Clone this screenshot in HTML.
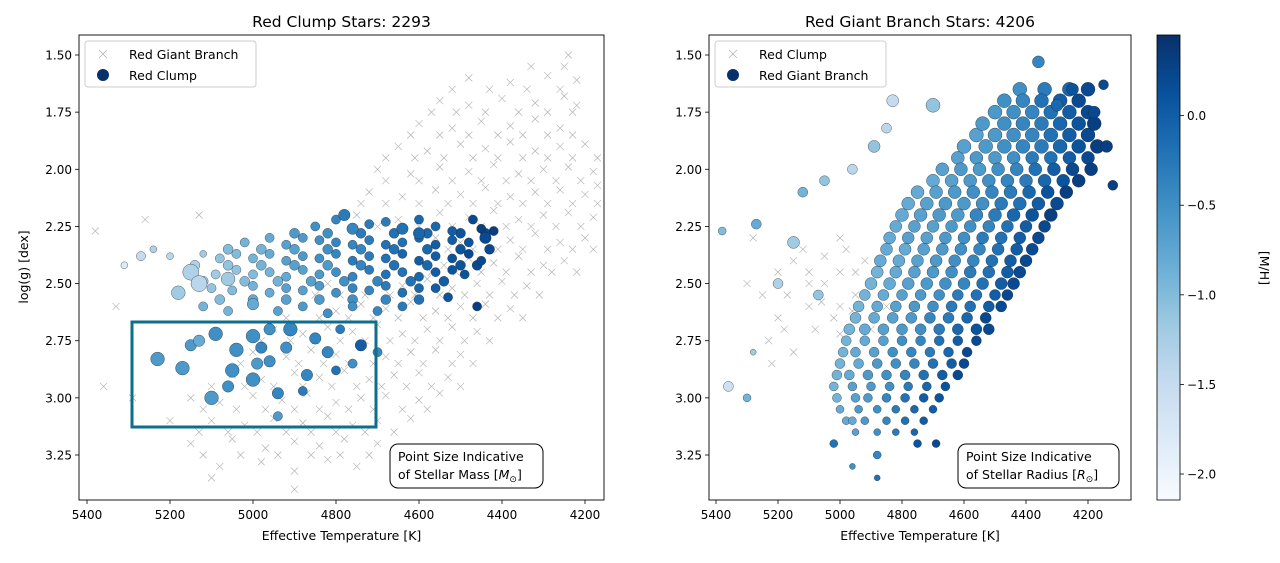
<!DOCTYPE html>
<html><head><meta charset="utf-8"><style>
body{margin:0;background:#fff;}
svg text{font-family:"DejaVu Sans","Liberation Sans",sans-serif;fill:#000;}
</style></head><body>
<svg id="fig" width="1280" height="558" viewBox="0 0 1280 558" xmlns="http://www.w3.org/2000/svg">
<defs>
<linearGradient id="cbg" x1="0" y1="1" x2="0" y2="0">
<stop offset="0" stop-color="#f7fbff"/><stop offset="0.125" stop-color="#deebf7"/><stop offset="0.25" stop-color="#c6dbef"/><stop offset="0.375" stop-color="#9ecae1"/><stop offset="0.5" stop-color="#6baed6"/><stop offset="0.625" stop-color="#4292c6"/><stop offset="0.75" stop-color="#2171b5"/><stop offset="0.875" stop-color="#08519c"/><stop offset="1" stop-color="#08306b"/>
</linearGradient>
<clipPath id="clipL"><rect x="79" y="35" width="525" height="465"/></clipPath>
<clipPath id="clipR"><rect x="709" y="35" width="422" height="465"/></clipPath>
</defs>
<g id="left"></g>
<g id="right"></g>
<g id="cbar"></g>
</svg>
<script>
// ---- data ----
const rcPoints = [
[4850,2.25,-0.5,4],[4800,2.22,-0.4,4],[4760,2.26,-0.4,5],[4720,2.24,-0.3,4],[4680,2.23,-0.3,4],[4640,2.26,-0.2,5],[4600,2.22,-0.1,4],[4560,2.25,-0.1,4],[4520,2.27,0,4],[4470,2.22,0.2,4],[4450,2.26,0.3,4],[4420,2.27,0.3,4],[4780,2.2,-0.3,5],
[5020,2.32,-0.9,4],[4960,2.3,-0.8,4],[4920,2.33,-0.7,4],[4880,2.3,-0.6,4],[4840,2.31,-0.5,4],[4800,2.32,-0.4,4],[4760,2.33,-0.4,4],[4720,2.31,-0.3,4],[4680,2.33,-0.2,4],[4640,2.32,-0.2,4],[4600,2.3,-0.1,4],[4560,2.33,0,4],[4520,2.31,0,4],[4480,2.32,0.1,4],[4440,2.3,0.2,5],[4600,2.28,-0.1,5],
[5200,2.38,-1.4,3],[5120,2.37,-1.2,3],[5080,2.39,-1.1,4],[5040,2.37,-1.0,4],[5000,2.39,-0.9,4],[4960,2.37,-0.8,4],[4920,2.4,-0.7,4],[4880,2.38,-0.6,4],[4840,2.39,-0.5,4],[4800,2.37,-0.4,4],[4760,2.4,-0.3,4],[4720,2.38,-0.3,4],[4680,2.39,-0.2,4],[4640,2.37,-0.1,4],[4600,2.4,0,4],[4560,2.38,0,4],[4520,2.39,0.1,4],[4480,2.37,0.2,4],[4450,2.4,0.2,4],
[5150,2.45,-1.3,7],[5090,2.46,-1.2,4],[5040,2.44,-1.1,4],[5000,2.46,-1.0,4],[4960,2.45,-0.9,4],[4920,2.47,-0.8,4],[4880,2.44,-0.7,4],[4840,2.46,-0.6,4],[4800,2.45,-0.5,4],[4760,2.47,-0.4,4],[4720,2.44,-0.3,4],[4680,2.46,-0.2,4],[4640,2.45,-0.2,4],[4600,2.47,-0.1,4],[4560,2.45,0,4],[4520,2.44,0.1,4],[4490,2.46,0.1,4],
[5180,2.54,-1.2,6],[5100,2.52,-1.1,4],[5050,2.53,-1.0,4],[5000,2.51,-0.9,4],[4960,2.54,-0.8,4],[4920,2.52,-0.7,4],[4880,2.53,-0.7,4],[4840,2.51,-0.6,4],[4800,2.54,-0.5,4],[4760,2.52,-0.4,4],[4720,2.53,-0.4,4],[4680,2.51,-0.3,4],[4640,2.54,-0.2,4],[4600,2.52,-0.1,4],[4560,2.52,0,4],
[5120,2.6,-0.9,4],[5060,2.62,-0.9,4],[5000,2.59,-0.8,5],[4940,2.62,-0.7,4],[4880,2.6,-0.6,4],[4820,2.63,-0.5,4],[4760,2.6,-0.5,4],[4700,2.62,-0.4,4],[4640,2.6,-0.3,4],[4460,2.6,0.3,4],[4530,2.56,0.1,4],
[5230,2.83,-0.6,6],[5150,2.77,-0.6,5],[5090,2.72,-0.5,6],[5040,2.79,-0.5,6],[5000,2.73,-0.5,6],[4960,2.84,-0.5,5],[4920,2.78,-0.5,5],[4870,2.9,-0.4,5],[4820,2.8,-0.4,5],[4760,2.85,-0.5,4],[4700,2.8,-0.4,4],[4740,2.77,0,5],[5000,2.92,-0.5,6],[4940,2.98,-0.4,5],[5100,3.0,-0.6,6],[4880,2.97,-0.3,4],[4940,3.08,-0.6,4],[4800,2.88,-0.2,4],[5170,2.87,-0.6,6],[5050,2.88,-0.5,6],[4990,2.85,-0.6,5],[4910,2.7,-0.4,6],[4850,2.74,-0.4,5],[5130,2.75,-0.8,5],[5060,2.95,-0.5,5],[4980,2.78,-0.4,5],[4960,2.7,-0.5,5],[4790,2.7,-0.3,4],
[5270,2.38,-1.5,4],[5310,2.42,-1.8,3],[5240,2.35,-1.3,3],[5130,2.5,-1.4,7],[5060,2.48,-1.2,6]
];
const rcLogg2 = [2.28,2.35,2.42,2.49,2.57];
const rcTeff2 = [
[4900,4820,4740,4660,4580,4500,4440],
[5060,4980,4900,4820,4740,4660,4580,4500,4430],
[5140,5060,4980,4900,4820,4740,4660,4580,4500,4460],
[5120,5020,4940,4860,4780,4700,4620,4540],
[5080,5000,4920,4840,4760,4680,4600]
];
const rcFeh2 = [
[-0.6,-0.5,-0.3,-0.2,-0.1,0.1,0.2],
[-1.0,-0.9,-0.7,-0.5,-0.4,-0.2,-0.1,0.1,0.2],
[-1.3,-1.1,-0.9,-0.7,-0.6,-0.4,-0.2,-0.1,0.1,0.2],
[-1.2,-1.0,-0.9,-0.7,-0.5,-0.4,-0.2,0.0],
[-1.0,-0.8,-0.7,-0.6,-0.5,-0.4,-0.2]
];
const rgbCrossL = [
[5080,3.3],[4980,3.28],[4900,3.32],[4820,3.27],[4750,3.3],
[5150,3.2],[5050,3.18],[4970,3.22],[4900,3.19],[4840,3.21],[4780,3.18],[4700,3.2],
[5100,3.1],[5020,3.12],[4950,3.09],[4880,3.11],[4820,3.08],[4760,3.12],[4700,3.1],[4620,3.09],
[5150,3.0],[5080,3.02],[5000,2.99],[4930,3.01],[4870,2.98],[4800,3.02],[4740,3.0],[4680,2.99],[4600,3.01],[4550,2.98],
[5050,2.9],[4980,2.92],[4900,2.89],[4840,2.91],[4780,2.88],[4720,2.92],[4660,2.9],[4600,2.89],[4530,2.91],
[5000,2.8],[4920,2.82],[4860,2.79],[4800,2.81],[4740,2.78],[4680,2.82],[4620,2.8],[4560,2.79],[4500,2.81],
[4950,2.7],[4880,2.72],[4820,2.69],[4760,2.71],[4700,2.68],[4640,2.72],[4580,2.7],[4520,2.69],[4460,2.71],
[4880,2.6],[4800,2.62],[4740,2.59],[4680,2.61],[4620,2.58],[4560,2.62],[4500,2.6],[4440,2.59],[4380,2.61],
[4820,2.5],[4760,2.52],[4700,2.49],[4640,2.51],[4580,2.48],[4520,2.52],[4460,2.5],[4400,2.49],[4340,2.51],
[4600,2.4],[4540,2.42],[4480,2.39],[4420,2.41],[4360,2.38],[4300,2.42],[4250,2.4],
[4560,2.3],[4500,2.32],[4440,2.29],[4380,2.31],[4320,2.28],[4260,2.32],[4200,2.3],
[4750,2.2],[4650,2.22],[4550,2.19],[4480,2.21],[4420,2.18],[4360,2.22],[4300,2.2],[4240,2.19],[4180,2.21],
[4720,2.1],[4640,2.12],[4560,2.09],[4500,2.11],[4440,2.08],[4380,2.12],[4320,2.1],[4260,2.09],[4200,2.11],
[4700,2.0],[4620,2.02],[4550,1.99],[4480,2.01],[4420,1.98],[4360,2.02],[4300,2.0],[4240,1.99],[4180,2.01],
[4650,1.9],[4580,1.92],[4500,1.89],[4440,1.91],[4380,1.88],[4320,1.92],[4260,1.9],[4200,1.89],
[4600,1.8],[4520,1.82],[4450,1.79],[4380,1.81],[4320,1.78],[4260,1.82],
[4550,1.7],[4480,1.72],[4400,1.69],[4320,1.71],[4250,1.68],
[4480,1.6],[4380,1.62],[4290,1.59],[4220,1.61],[4240,1.5],
[5380,2.27],[5360,2.95],[5290,3.0],[5260,2.22],[5330,2.6],[5200,3.1],[4170,2.07],[4220,1.72],[5130,2.2],[5100,3.35],[4900,3.4]
];
const crossL2Logg = [3.25,3.15,3.05,2.95,2.85,2.75,2.65,2.55,2.45,2.35,2.25,2.15,2.05,1.95,1.85,1.75,1.65,1.55];
const crossL2Teff = [
[5120,5030,4940,4860,4790,4720],
[5130,5060,4990,4920,4860,4800,4730,4660],
[5120,5040,4970,4900,4840,4770,4710,4640,4580],
[5100,5020,4950,4880,4810,4750,4690,4630,4570,4500],
[5030,4960,4890,4830,4770,4710,4650,4590,4520,4470],
[4980,4910,4850,4790,4730,4670,4610,4550,4490,4430],
[4920,4840,4770,4710,4650,4590,4530,4470,4410,4350],
[4850,4790,4730,4670,4610,4550,4490,4430,4370,4310],
[4640,4570,4510,4450,4390,4330,4280,4220],
[4580,4530,4470,4410,4350,4290,4230,4180],
[4700,4600,4520,4450,4390,4330,4270,4210],
[4740,4680,4600,4530,4470,4410,4350,4290,4230,4170],
[4680,4600,4520,4450,4390,4330,4270,4210],
[4680,4610,4540,4470,4410,4350,4290,4230,4170],
[4620,4550,4480,4410,4350,4290,4230],
[4570,4510,4440,4360,4290,4230],
[4520,4430,4340,4260],
[4330,4250]
];
const rcCrossR = [
[5150,2.4],[5100,2.45],[5050,2.5],[5000,2.45],[5000,2.6],[4950,2.55],[5100,2.6],[5200,2.65],[5050,2.38],[4980,2.35],[5250,2.55],[5300,2.5],[5150,2.8],[5220,2.85],[5080,2.7],[5000,2.72],[5200,2.45],[4950,2.45],[5060,2.58],
[5100,2.5],[4900,2.5],[4850,2.6],[5120,2.35],[5020,2.65],[4900,2.7],[5180,2.7],[5000,2.3],[4920,2.4],[5280,2.3],[5170,2.55],[5230,2.75],[4960,2.62]
];
const rgbLogg = [3.15,3.05,2.95,2.85,2.75,2.65,2.55,2.45,2.35,2.25,2.15,2.05,1.95,1.85,1.75,1.65];
const rgbRadius = [3.5,4,4.5,5,5,5.5,5.5,6,6,6,6.5,6.5,6.5,7,7,7];
const rgbTeff = [
[4950,4880,4820,4760],
[5000,4940,4880,4820,4760,4700],
[5020,4960,4900,4840,4780,4720,4660],
[5000,4940,4880,4820,4760,4700,4640,4600],
[4980,4920,4860,4800,4740,4680,4620,4560],
[4950,4890,4830,4770,4710,4650,4590,4530],
[4920,4860,4800,4740,4680,4620,4560,4500,4460],
[4880,4820,4760,4700,4640,4580,4520,4460,4420],
[4850,4790,4730,4670,4610,4550,4490,4430,4380],
[4820,4760,4700,4640,4580,4520,4460,4400,4340],
[4780,4720,4660,4600,4540,4480,4420,4360,4300],
[4700,4640,4580,4520,4460,4400,4340,4280,4230],
[4620,4560,4500,4440,4380,4320,4260,4200],
[4560,4500,4440,4380,4320,4260,4200],
[4500,4440,4380,4320,4260,4200],
[4420,4340,4260,4200]
];
const rgbFeh = [
[-0.7,-0.5,-0.3,-0.1],
[-0.8,-0.6,-0.5,-0.3,-0.1,0.0],
[-0.9,-0.7,-0.6,-0.5,-0.3,-0.1,0.1],
[-0.9,-0.8,-0.6,-0.5,-0.4,-0.2,0.0,0.2],
[-0.9,-0.8,-0.7,-0.5,-0.4,-0.2,0.0,0.2],
[-0.9,-0.8,-0.7,-0.6,-0.4,-0.3,-0.1,0.2],
[-0.9,-0.8,-0.7,-0.6,-0.5,-0.3,-0.2,0.0,0.2],
[-0.9,-0.8,-0.7,-0.6,-0.5,-0.3,-0.2,0.0,0.2],
[-0.8,-0.8,-0.7,-0.6,-0.5,-0.4,-0.2,0.0,0.2],
[-0.8,-0.7,-0.7,-0.6,-0.5,-0.4,-0.2,0.0,0.2],
[-0.8,-0.7,-0.6,-0.6,-0.5,-0.3,-0.2,0.0,0.2],
[-0.8,-0.7,-0.6,-0.5,-0.4,-0.3,-0.1,0.1,0.3],
[-0.7,-0.6,-0.6,-0.5,-0.3,-0.2,0.0,0.2],
[-0.7,-0.6,-0.5,-0.4,-0.2,0.0,0.2],
[-0.6,-0.5,-0.4,-0.2,0.0,0.2],
[-0.5,-0.3,-0.1,0.2]
];
const rgbLogg2 = [3.10,3.00,2.90,2.80,2.70,2.60,2.50,2.40,2.30,2.20,2.10,2.00,1.90,1.80,1.70];
const rgbRadius2 = [4,4.5,5,5,5.5,5.5,6,6,6,6.5,6.5,6.5,7,7,7];
const rgbTeff2 = [
[4980,4920,4850,4790,4730],
[5010,4950,4910,4850,4790,4730,4680],
[5010,4970,4910,4850,4790,4730,4670,4620],
[4990,4950,4890,4830,4770,4710,4650,4590],
[4970,4920,4860,4800,4740,4680,4620,4560,4520],
[4940,4880,4820,4760,4700,4640,4580,4520,4480],
[4900,4840,4780,4720,4660,4600,4540,4480,4440],
[4870,4810,4750,4690,4630,4570,4510,4450,4400],
[4840,4780,4720,4660,4600,4540,4480,4420,4360],
[4800,4740,4680,4620,4560,4500,4440,4380,4320],
[4750,4690,4630,4570,4510,4450,4390,4330,4270],
[4670,4610,4550,4490,4430,4370,4310,4250,4190],
[4600,4530,4470,4410,4350,4290,4230,4170],
[4540,4470,4410,4350,4290,4230,4180],
[4470,4410,4350,4290,4230]
];
const rgbFeh2 = [
[-0.8,-0.6,-0.4,-0.2,0.0],
[-0.9,-0.7,-0.6,-0.4,-0.2,0.0,0.1],
[-0.9,-0.8,-0.6,-0.5,-0.4,-0.2,0.0,0.2],
[-0.9,-0.8,-0.7,-0.5,-0.4,-0.3,-0.1,0.2],
[-0.9,-0.8,-0.7,-0.6,-0.5,-0.3,-0.1,0.1,0.2],
[-0.9,-0.8,-0.7,-0.6,-0.5,-0.3,-0.2,0.0,0.2],
[-0.9,-0.8,-0.7,-0.6,-0.5,-0.4,-0.2,0.0,0.2],
[-0.8,-0.8,-0.7,-0.6,-0.5,-0.4,-0.2,0.0,0.2],
[-0.8,-0.7,-0.7,-0.6,-0.5,-0.3,-0.2,0.0,0.2],
[-0.8,-0.7,-0.6,-0.6,-0.4,-0.3,-0.1,0.1,0.3],
[-0.8,-0.7,-0.6,-0.5,-0.4,-0.3,-0.1,0.1,0.3],
[-0.7,-0.6,-0.6,-0.5,-0.4,-0.2,0.0,0.2,0.3],
[-0.7,-0.6,-0.5,-0.4,-0.3,-0.1,0.1,0.3],
[-0.6,-0.5,-0.4,-0.3,-0.1,0.1,0.3],
[-0.5,-0.4,-0.2,0.0,0.2]
];
const rgbOutliers = [
[5380,2.27,-1.0,4],[5270,2.24,-0.8,5],[5120,2.1,-0.9,5],[5050,2.05,-1.1,5],[4960,2.0,-1.4,5],[5150,2.32,-1.2,6],[5200,2.5,-1.3,5],[5070,2.55,-1.1,5],[5360,2.95,-1.6,5],[5300,3.0,-0.9,4],[5280,2.8,-1.2,3],[4890,1.9,-1.1,6],[4830,1.7,-1.5,6],[4850,1.82,-1.4,5],[4700,1.72,-1.1,7],[4360,1.53,-0.4,6],[4150,1.63,0.2,5],[4120,2.07,0.3,5],[4140,1.9,0.3,6],[4960,3.3,-0.5,3],[4880,3.25,-0.4,4],[4750,3.2,0.1,4],[4690,3.2,0.2,4],[5020,3.2,-0.2,4],[4960,3.1,-0.8,4],[4880,3.35,-0.2,3],[4250,1.65,0.1,6],[4180,1.75,0.2,6],[4300,1.72,-0.1,6]
];
const xTicks = [5400,5200,5000,4800,4600,4400,4200];
const yTicks = [1.50,1.75,2.00,2.25,2.50,2.75,3.00,3.25];
const cbTicks = [0.0,-0.5,-1.0,-1.5,-2.0];

// ---- scales ----
const NS="http://www.w3.org/2000/svg";
const xL = t => 87 + (5400 - t) * 0.415;
const xR = t => 716 + (5400 - t) * 0.31;
const yS = g => 55 + (g - 1.5) * 228.57;
const fehMin=-2.145, fehMax=0.45;
const stops=[[0,[247,251,255]],[.125,[222,235,247]],[.25,[198,219,239]],[.375,[158,202,225]],[.5,[107,174,214]],[.625,[66,146,198]],[.75,[33,113,181]],[.875,[8,81,156]],[1,[8,48,107]]];
function cmap(v){let t=(v-fehMin)/(fehMax-fehMin);t=Math.max(0,Math.min(1,t));
 for(let i=1;i<stops.length;i++){if(t<=stops[i][0]){const a=stops[i-1],b=stops[i],f=(t-a[0])/(b[0]-a[0]);
 return `rgb(${a[1].map((c,k)=>Math.round(c+(b[1][k]-c)*f)).join(',')})`;}}return 'rgb(8,48,107)';}
function el(tag,attrs,parent,text){const e=document.createElementNS(NS,tag);for(const k in attrs)e.setAttribute(k,attrs[k]);if(text!==undefined)e.textContent=text;parent.appendChild(e);return e;}
function cross(g,x,y){
 const p=el('path',{d:`M${x-3.5},${y-3.5}L${x+3.5},${y+3.5}M${x-3.5},${y+3.5}L${x+3.5},${y-3.5}`,stroke:'#777','stroke-width':0.6,'stroke-opacity':0.6,fill:'none'},g);
 
 
}
function dot(g,x,y,r,f,name){
 const c=el('circle',{cx:x,cy:y,r:r,fill:cmap(f),stroke:'#222','stroke-width':0.35},g);
 
 
}

function axes(g,xs,x0,x1,title,legend1,legend2,annot2,xcross,idp){
 const ttl=el('text',{x:(x0+x1)/2,y:27,'font-size':15.5,'text-anchor':'middle'},g,title);
 
 
 xTicks.forEach(t=>{const x=xs(t);el('line',{x1:x,x2:x,y1:500,y2:504,stroke:'#000','stroke-width':0.8},g);
  const tx=el('text',{x:x,y:519,'font-size':12,'text-anchor':'middle'},g,String(t));
  
  });
 yTicks.forEach(v=>{const y=yS(v);el('line',{x1:x0-4,x2:x0,y1:y,y2:y,stroke:'#000','stroke-width':0.8},g);
  const tx=el('text',{x:x0-7,y:y+4.5,'font-size':12,'text-anchor':'end'},g,v.toFixed(2));
  
  });
 const xl=el('text',{x:(x0+x1)/2,y:540,'font-size':12.5,'text-anchor':'middle'},g,'Effective Temperature [K]');
 
 
 const lg=el('g',{},g);
 
 
 el('rect',{x:x0+6,y:41,width:171,height:46,rx:3,fill:'#fff','fill-opacity':0.8,stroke:'#ccc'},lg);
 const cx=x0+24;
 el('path',{d:`M${cx-4},50L${cx+4},58M${cx-4},58L${cx+4},50`,stroke:'#aaa','stroke-width':0.7},lg);
 el('text',{x:x0+50,y:59,'font-size':12.5},lg,legend1);
 el('circle',{cx:cx,cy:75,r:6,fill:'#08306b'},lg);
 el('text',{x:x0+50,y:80,'font-size':12.5},lg,legend2);
 const an=el('g',{},g);
 
 
 const ax=x1-(idp==='left'?214:173), aw=idp==='left'?153:161;
 el('rect',{x:ax,y:444,width:aw,height:44,rx:8,fill:'#fff',stroke:'#000','stroke-width':1},an);
 el('text',{x:ax+8,y:461,'font-size':12.5},an,'Point Size Indicative');
 const t2=el('text',{x:ax+8,y:479,'font-size':12.5},an,'of Stellar '+annot2+' [');
 el('tspan',{'font-style':'italic'},t2,annot2==='Mass'?'M':'R');
 el('tspan',{'font-size':9,dy:3},t2,'⊙');
 el('tspan',{dy:-3},t2,']');
 el('rect',{x:x0,y:35,width:x1-x0,height:465,fill:'none',stroke:'#000','stroke-width':0.9},g);
}

// LEFT panel
const L=document.getElementById('left');
const Lp=el('g',{'clip-path':'url(#clipL)'},L);
rgbCrossL.forEach(p=>cross(Lp,xL(p[0]),yS(p[1])));
crossL2Logg.forEach((g,i)=>crossL2Teff[i].forEach(t=>cross(Lp,xL(t),yS(g))));
rcLogg2.forEach((g,i)=>rcTeff2[i].forEach((t,j)=>dot(Lp,xL(t),yS(g),5,rcFeh2[i][j],'red-clump-point')));
rcPoints.forEach(p=>dot(Lp,xL(p[0]),yS(p[1]),p[3]*1.15,p[2],'red-clump-point'));
const box=el('rect',{x:132,y:322,width:244,height:105,fill:'none',stroke:'#0f6e8c','stroke-width':3},L);


axes(L,xL,79,604,'Red Clump Stars: 2293','Red Giant Branch','Red Clump','Mass',true,'left');
const yl=el('text',{x:28,y:267,'font-size':12.5,'text-anchor':'middle',transform:'rotate(-90 28 267)'},L,'log(g) [dex]');



// RIGHT panel
const R=document.getElementById('right');
const Rp=el('g',{'clip-path':'url(#clipR)'},R);
rcCrossR.forEach(p=>cross(Rp,xR(p[0]),yS(p[1])));
rgbLogg.forEach((g,i)=>rgbTeff[i].forEach((t,j)=>dot(Rp,xR(t),yS(g),rgbRadius[i],rgbFeh[i][j],'red-giant-branch-point')));
rgbLogg2.forEach((g,i)=>rgbTeff2[i].forEach((t,j)=>dot(Rp,xR(t),yS(g),rgbRadius2[i],rgbFeh2[i][j],'red-giant-branch-point')));
rgbOutliers.forEach(p=>dot(Rp,xR(p[0]),yS(p[1]),p[3],p[2],'red-giant-branch-point'));
axes(R,xR,709,1131,'Red Giant Branch Stars: 4206','Red Clump','Red Giant Branch','Radius',false,'right');

// colorbar
const C=document.getElementById('cbar');
el('rect',{x:1157,y:35,width:23,height:465,fill:'url(#cbg)',stroke:'#000','stroke-width':0.8},C);
const cbY=v=>35+(fehMax-v)/(fehMax-fehMin)*465;
cbTicks.forEach(v=>{const y=cbY(v);el('line',{x1:1180,x2:1184,y1:y,y2:y,stroke:'#000','stroke-width':0.8},C);
 const tx=el('text',{x:1187,y:y+4.5,'font-size':12},C,v===0?'0.0':('−'+Math.abs(v).toFixed(1)));
 
 });
const cl=el('text',{x:1260,y:268,'font-size':12.5,'text-anchor':'middle',transform:'rotate(90 1260 268)'},C,'[M/H]');


</script>
</body></html>
